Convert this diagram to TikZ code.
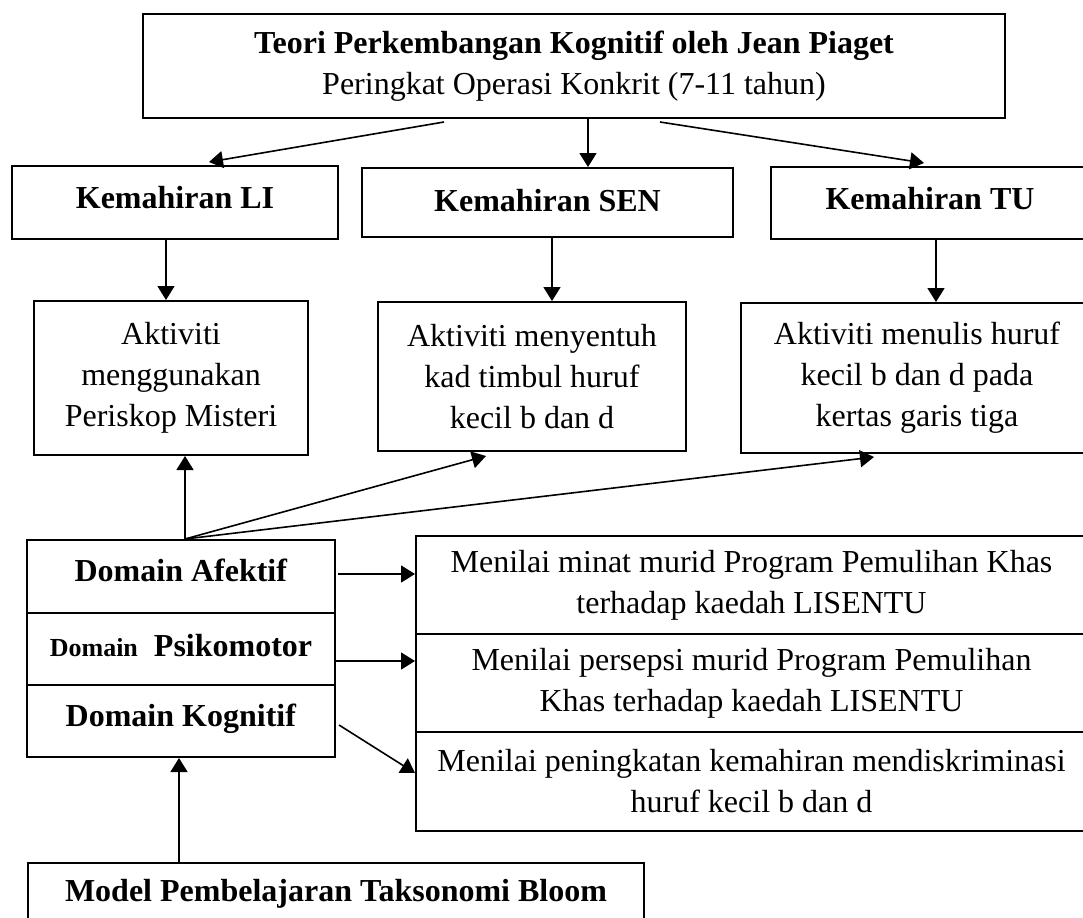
\documentclass[tikz,border=0pt]{standalone}
\usepackage{fontspec}
\setmainfont{Liberation Serif}
\usetikzlibrary{arrows.meta}
\usetikzlibrary{calc}

\begin{document}
\begin{tikzpicture}[x=0.5pt,y=0.5pt,yscale=-1,xscale=1,
	kotak/.style={draw, line width=1pt, inner sep=0pt, align=center, font=\fontsize{16}{20.5}\selectfont},
	panah/.style={-{Triangle[length=7pt,width=8.5pt]}, line width=0.8pt}]
		\useasboundingbox (0,0) rectangle (1083,917);
		
		%Shape: Rectangle [teori]
		\node [kotak, minimum width=431pt, minimum height=52pt] (teori) at (574,66) {\textbf{Teori Perkembangan Kognitif oleh Jean Piaget}\\Peringkat Operasi Konkrit (7-11 tahun)};
		
		%Shape: Rectangle [kemahiran]
		\node [kotak, minimum width=163pt, minimum height=36.5pt, text depth=5pt] (kemLI) at (175,202.5) {\textbf{Kemahiran LI}};
		\node [kotak, minimum width=185.5pt, minimum height=34.5pt, text depth=2pt] (kemSEN) at (547.5,202.5) {\textbf{Kemahiran SEN}};
		\node [kotak, minimum width=159pt, minimum height=36pt, text depth=5pt] (kemTU) at (930,203) {\textbf{Kemahiran TU}};
		
		%Shape: Rectangle [aktiviti]
		\node [kotak, minimum width=137pt, minimum height=77pt] (aktLI) at (171,378) {Aktiviti\\menggunakan\\Periskop Misteri};
		\node [kotak, minimum width=154pt, minimum height=74.5pt] (aktSEN) at (532,376.5) {Aktiviti menyentuh\\kad timbul huruf\\kecil b dan d};
		\node [kotak, minimum width=176pt, minimum height=75pt] (aktTU) at (917,378) {Aktiviti menulis huruf\\kecil b dan d pada\\kertas garis tiga};
		
		%Shape: Rectangle [domain]
		\node [kotak, minimum width=154pt, minimum height=36.5pt, text depth=6pt] (domA) at (181,576.5) {\textbf{Domain Afektif}};
		\node [kotak, minimum width=154pt, minimum height=36pt, text depth=4pt] (domP) at (181,649) {\textbf{{\fontsize{13}{16}\selectfont Domain}\ \ Psikomotor}};
		\node [kotak, minimum width=154pt, minimum height=36pt, text depth=6pt] (domK) at (181,721) {\textbf{Domain Kognitif}};
		
		%Shape: Rectangle [menilai]
		\node [kotak, minimum width=335.5pt, minimum height=49pt] (nilaiA) at (751.5,585) {Menilai minat murid Program Pemulihan Khas\\terhadap kaedah LISENTU};
		\node [kotak, minimum width=335.5pt, minimum height=49pt] (nilaiP) at (751.5,683) {Menilai persepsi murid Program Pemulihan\\Khas terhadap kaedah LISENTU};
		\node [kotak, minimum width=335.5pt, minimum height=49.5pt] (nilaiK) at (751.5,781.5) {Menilai peningkatan kemahiran mendiskriminasi\\huruf kecil b dan d};
		
		%Shape: Rectangle [bloom]
		\node [kotak, minimum width=308pt, minimum height=31pt] (bloom) at (336,894) {\textbf{Model Pembelajaran Taksonomi Bloom}};
		
		%Straight Lines [teori ke kemahiran]
		\draw [panah] ($(teori.south)+(-130,3)$) -- ($(kemLI.north)+(34,-3)$);
		\draw [panah] ($(teori.south)+(14,0)$) -- ($(kemSEN.north)+(40.5,0)$);
		\draw [panah] ($(teori.south)+(86,3)$) -- ($(kemTU.north)+(-6,-3)$);
		
		%Straight Lines [kemahiran ke aktiviti]
		\draw [panah] ($(kemLI.south)+(-9,0)$) -- ($(aktLI.north)+(-5,0)$);
		\draw [panah] ($(kemSEN.south)+(4.5,0)$) -- ($(aktSEN.north)+(20,0)$);
		\draw [panah] ($(kemTU.south)+(6,0)$) -- ($(aktTU.north)+(19,0)$);
		
		%Straight Lines [domain ke aktiviti]
		\coordinate (pangkal) at ($(domA.north)+(4,0)$);
		\draw [panah] (pangkal) -- ($(aktLI.south)+(14,0)$);
		\draw [panah] (pangkal) -- ($(aktSEN.south)+(-46,4)$);
		\draw [panah] (pangkal) -- ($(aktTU.south)+(-43,3)$);
		
		%Straight Lines [domain ke menilai]
		\draw [panah] ($(domA.east)+(2,-2.5)$) -- ($(nilaiA.west)+(0,-11)$);
		\draw [panah] ($(domP.east)+(0,12)$) -- ($(nilaiP.west)+(0,-22)$);
		\draw [panah] ($(domK.east)+(3,4)$) -- ($(nilaiK.west)+(0,-8.5)$);
		
		%Straight Lines [bloom ke domain]
		\draw [panah] ($(bloom.north)+(-157,0)$) -- ($(domK.south)+(-2,0)$);
		
	\end{tikzpicture}
\end{document}
